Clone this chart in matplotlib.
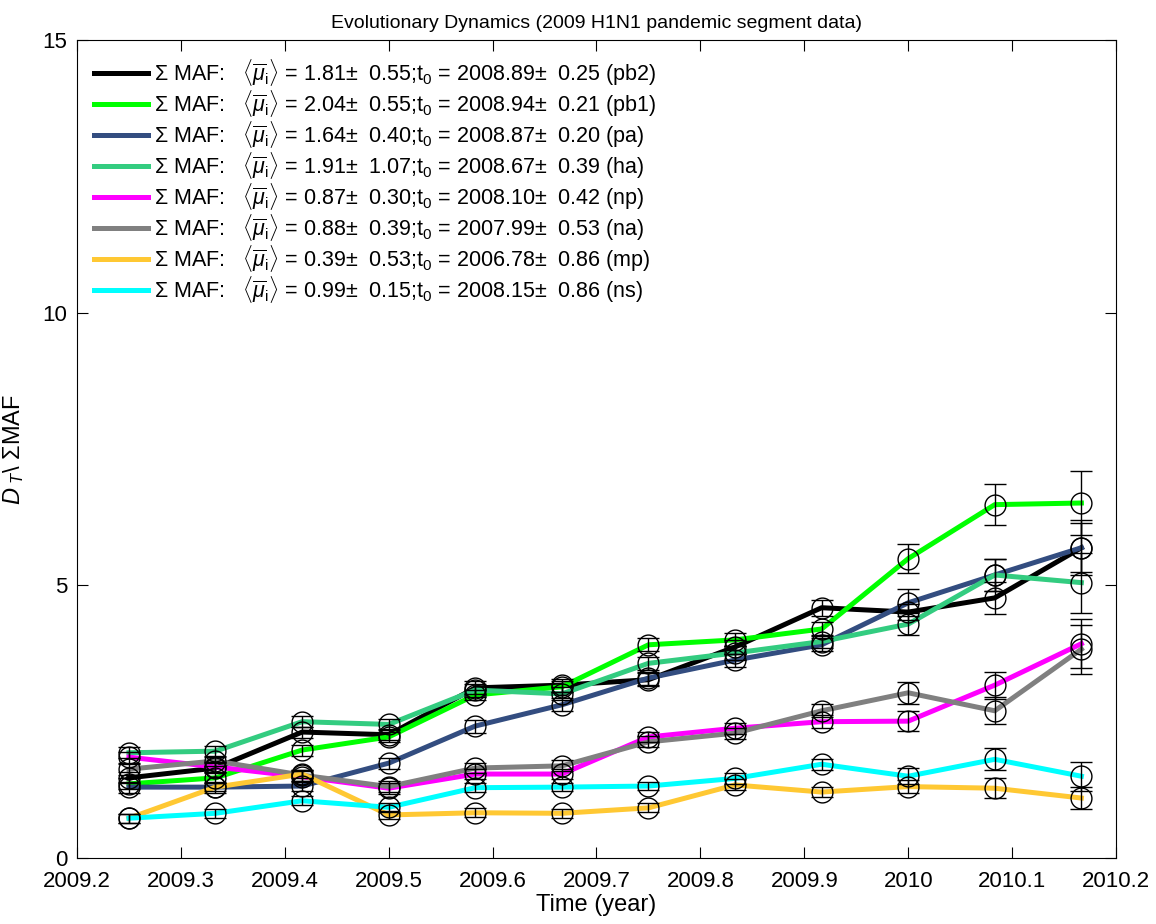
import numpy as np
import matplotlib
matplotlib.use('Agg')
import matplotlib.pyplot as plt
from matplotlib import rcParams

rcParams.update({'font.family': 'Liberation Sans', 'mathtext.fontset': 'custom',
                 'mathtext.rm': 'Liberation Sans', 'mathtext.it': 'Liberation Sans:italic'})

# time points (year)
years = [2009.25, 2009.3333, 2009.4167, 2009.5, 2009.5833, 2009.6667,
         2009.75, 2009.8333, 2009.9167, 2010.0, 2010.0833, 2010.1667]

segments = ['pb2', 'pb1', 'pa', 'ha', 'np', 'na', 'mp', 'ns']
mu = ['1.81', '2.04', '1.64', '1.91', '0.87', '0.88', '0.39', '0.99']
mu_err = ['0.55', '0.55', '0.40', '1.07', '0.30', '0.39', '0.53', '0.15']
t0 = ['2008.89', '2008.94', '2008.87', '2008.67', '2008.10', '2007.99', '2006.78', '2008.15']
t0_err = ['0.25', '0.21', '0.20', '0.39', '0.42', '0.53', '0.86', '0.86']

pb2 = [1.47, 1.65, 2.31, 2.26, 3.12, 3.17, 3.27, 3.87, 4.59, 4.51, 4.77, 5.69]
pb1 = [1.36, 1.47, 1.98, 2.22, 2.99, 3.14, 3.91, 4.00, 4.20, 5.49, 6.48, 6.51]
pa = [1.30, 1.30, 1.32, 1.74, 2.42, 2.81, 3.30, 3.63, 3.91, 4.68, 5.19, 5.69]
ha = [1.93, 1.96, 2.50, 2.45, 3.08, 3.01, 3.57, 3.76, 3.97, 4.29, 5.19, 5.05]
np_ = [1.85, 1.67, 1.49, 1.28, 1.54, 1.54, 2.22, 2.38, 2.50, 2.51, 3.17, 3.93]
na = [1.63, 1.78, 1.52, 1.31, 1.65, 1.69, 2.13, 2.29, 2.70, 3.03, 2.70, 3.83]
mp = [0.73, 1.30, 1.54, 0.79, 0.83, 0.82, 0.92, 1.34, 1.21, 1.31, 1.28, 1.10]
ns = [0.73, 0.82, 1.05, 0.93, 1.29, 1.30, 1.32, 1.46, 1.72, 1.50, 1.81, 1.50]

pb2_e = [0.10, 0.10, 0.10, 0.10, 0.12, 0.12, 0.12, 0.12, 0.15, 0.15, 0.30, 0.50]
pb1_e = [0.10, 0.10, 0.10, 0.10, 0.10, 0.10, 0.12, 0.12, 0.13, 0.26, 0.37, 0.58]
pa_e = [0.10, 0.10, 0.10, 0.10, 0.12, 0.12, 0.12, 0.12, 0.12, 0.25, 0.30, 0.45]
ha_e = [0.10, 0.10, 0.10, 0.10, 0.12, 0.12, 0.12, 0.12, 0.12, 0.20, 0.30, 0.55]
np_e = [0.10, 0.10, 0.10, 0.10, 0.10, 0.10, 0.10, 0.10, 0.12, 0.18, 0.25, 0.45]
na_e = [0.10, 0.10, 0.10, 0.10, 0.10, 0.10, 0.10, 0.10, 0.12, 0.20, 0.25, 0.45]
mp_e = [0.08, 0.08, 0.08, 0.08, 0.08, 0.08, 0.08, 0.10, 0.10, 0.12, 0.18, 0.20]
ns_e = [0.08, 0.08, 0.08, 0.08, 0.08, 0.08, 0.08, 0.10, 0.10, 0.15, 0.20, 0.27]

colors = ['#000000', '#00ff00', '#334d80', '#33cc80', '#ff00ff', '#808080', '#ffc833', '#00ffff']

series = [pb2, pb1, pa, ha, np_, na, mp, ns]
errors = [pb2_e, pb1_e, pa_e, ha_e, np_e, na_e, mp_e, ns_e]

fig = plt.figure(figsize=(11.56, 9.24), dpi=100)
ax = fig.add_axes([0.0666, 0.0714, 0.8988, 0.8853])

lines = []
for i in range(len(series)):
	lab = (r'$\Sigma$ MAF:   $\langle\overline{\mu}_{\rm i}\rangle$ = ' + mu[i] + r'$\pm$  ' + mu_err[i]
	       + r';t$_0$ = ' + t0[i] + r'$\pm$  ' + t0_err[i] + ' (' + segments[i] + ')')
	l, = ax.plot(years, series[i], '-', color=colors[i], lw=3.6, label=lab, zorder=2)
	lines.append(l)

for i in range(len(series)):
	ax.errorbar(years, series[i], yerr=errors[i], fmt='o', mfc='none', mec='k', mew=1.0,
	            ms=15, ecolor='k', elinewidth=1.0, capsize=8, capthick=1.0, zorder=3)

ax.set_xlim(2009.2, 2010.2)
ax.set_ylim(0, 15)
ax.set_xticks(np.arange(2009.2, 2010.21, 0.1))
ax.set_xticklabels(['2009.2', '2009.3', '2009.4', '2009.5', '2009.6', '2009.7', '2009.8',
                    '2009.9', '2010', '2010.1', '2010.2'])
ax.set_yticks([0, 5, 10, 15])
ax.tick_params(direction='in', top=True, right=True, length=8, labelsize=16)
ax.tick_params(axis='x', pad=9)
ax.tick_params(axis='y', pad=7)

ax.set_title('Evolutionary Dynamics (2009 H1N1 pandemic segment data)', fontsize=14, pad=9)
ax.set_xlabel('Time (year)', fontsize=17, labelpad=2)
ax.set_ylabel(r'$D_{\ T}$\ $\Sigma$MAF', fontsize=17, labelpad=12)

ax.legend(handles=lines, loc='upper left', frameon=False, fontsize=15.5, handlelength=2.5,
          handletextpad=0.3, labelspacing=0.0, borderaxespad=0.5, borderpad=0.3)

fig.savefig('out.png', dpi=100)
